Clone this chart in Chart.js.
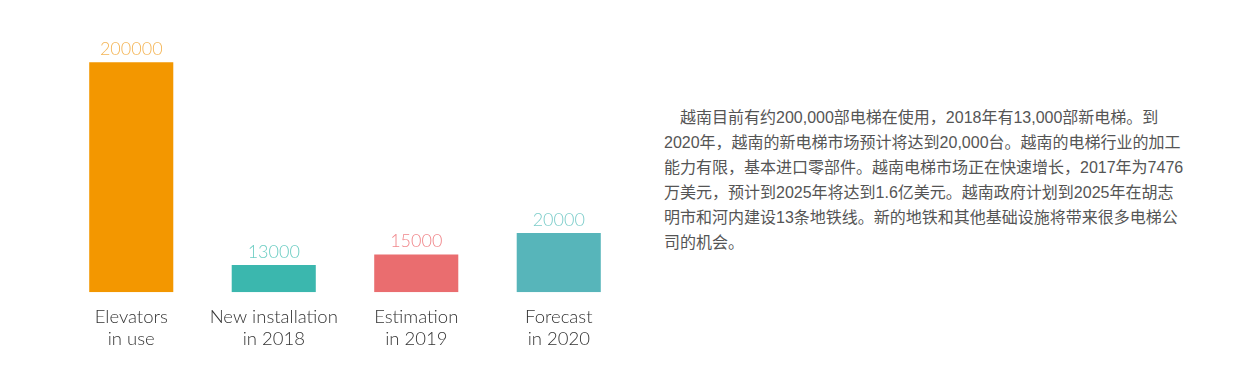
<!DOCTYPE html>
<html lang="zh">
<head>
    <meta charset="UTF-8">
    <title>Vietnam Elevators</title>
    <script src="https://cdn.jsdelivr.net/npm/chart.js"></script>
    <style>
        body {
            margin: 0;
            padding: 0;
            background: #ffffff;
            width: 1260px;
            height: 374px;
            overflow: hidden;
            position: relative;
        }
        .chart-box {
            position: absolute;
            left: 60px;
            top: 0;
            width: 570px;
            height: 374px;
        }
        .intro {
            position: absolute;
            left: 664px;
            top: 105px;
            font-family: "Liberation Sans", "Noto Sans CJK SC", sans-serif;
            font-size: 16px;
            line-height: 25px;
            color: #555;
        }
        .intro div {
            white-space: nowrap;
        }
        .intro .first {
            text-indent: 16px;
        }
    </style>
</head>
<body>
    <div class="chart-box">
        <canvas id="elevChart" width="570" height="374"></canvas>
    </div>

    <div class="intro">
        <div class="first">越南目前有约200,000部电梯在使用，2018年有13,000部新电梯。到</div>
        <div>2020年，越南的新电梯市场预计将达到20,000台。越南的电梯行业的加工</div>
        <div>能力有限，基本进口零部件。越南电梯市场正在快速增长，2017年为7476</div>
        <div>万美元，预计到2025年将达到1.6亿美元。越南政府计划到2025年在胡志</div>
        <div>明市和河内建设13条地铁线。新的地铁和其他基础设施将带来很多电梯公</div>
        <div>司的机会。</div>
    </div>

    <script>
        // chart data
        const categories = [
            ['Elevators', 'in use'],
            ['New installation', 'in 2018'],
            ['Estimation', 'in 2019'],
            ['Forecast', 'in 2020']
        ];
        const elevatorCounts = [200000, 13000, 15000, 20000];
        const barColors = ['#f39700', '#3bb7ae', '#ea6d6f', '#57b5ba'];
        const labelColors = ['#f4b556', '#6ccdc3', '#f0878b', '#7dcdca'];

        // draws the number above each bar
        const valueLabels = {
            id: 'valueLabels',
            afterDatasetsDraw(chart) {
                const ctx = chart.ctx;
                const meta = chart.getDatasetMeta(0);
                ctx.save();
                ctx.font = '300 18px Lato, "Open Sans", sans-serif';
                ctx.textAlign = 'center';
                ctx.textBaseline = 'bottom';
                meta.data.forEach((bar, i) => {
                    ctx.fillStyle = labelColors[i];
                    ctx.fillText(elevatorCounts[i], bar.x, bar.y - 4);
                });
                ctx.restore();
            }
        };

        const ctx = document.getElementById('elevChart').getContext('2d');
        new Chart(ctx, {
            type: 'bar',
            data: {
                labels: categories,
                datasets: [{
                    data: elevatorCounts,
                    backgroundColor: barColors,
                    borderWidth: 0,
                    categoryPercentage: 1,
                    barPercentage: 0.59
                }]
            },
            options: {
                responsive: false,
                animation: false,
                layout: {
                    padding: { top: 40, bottom: 10, left: 0, right: 0 }
                },
                plugins: {
                    legend: { display: false },
                    tooltip: { enabled: false }
                },
                scales: {
                    x: {
                        grid: { display: false, drawTicks: false },
                        border: { display: false },
                        ticks: {
                            padding: 14,
                            color: '#333',
                            font: { family: 'Lato, "Open Sans", sans-serif', size: 18.5, weight: '300', lineHeight: 1.18 }
                        }
                    },
                    y: {
                        type: 'logarithmic',
                        display: false,
                        min: 9000,
                        max: 270000
                    }
                }
            },
            plugins: [valueLabels]
        });
    </script>
</body>
</html>
